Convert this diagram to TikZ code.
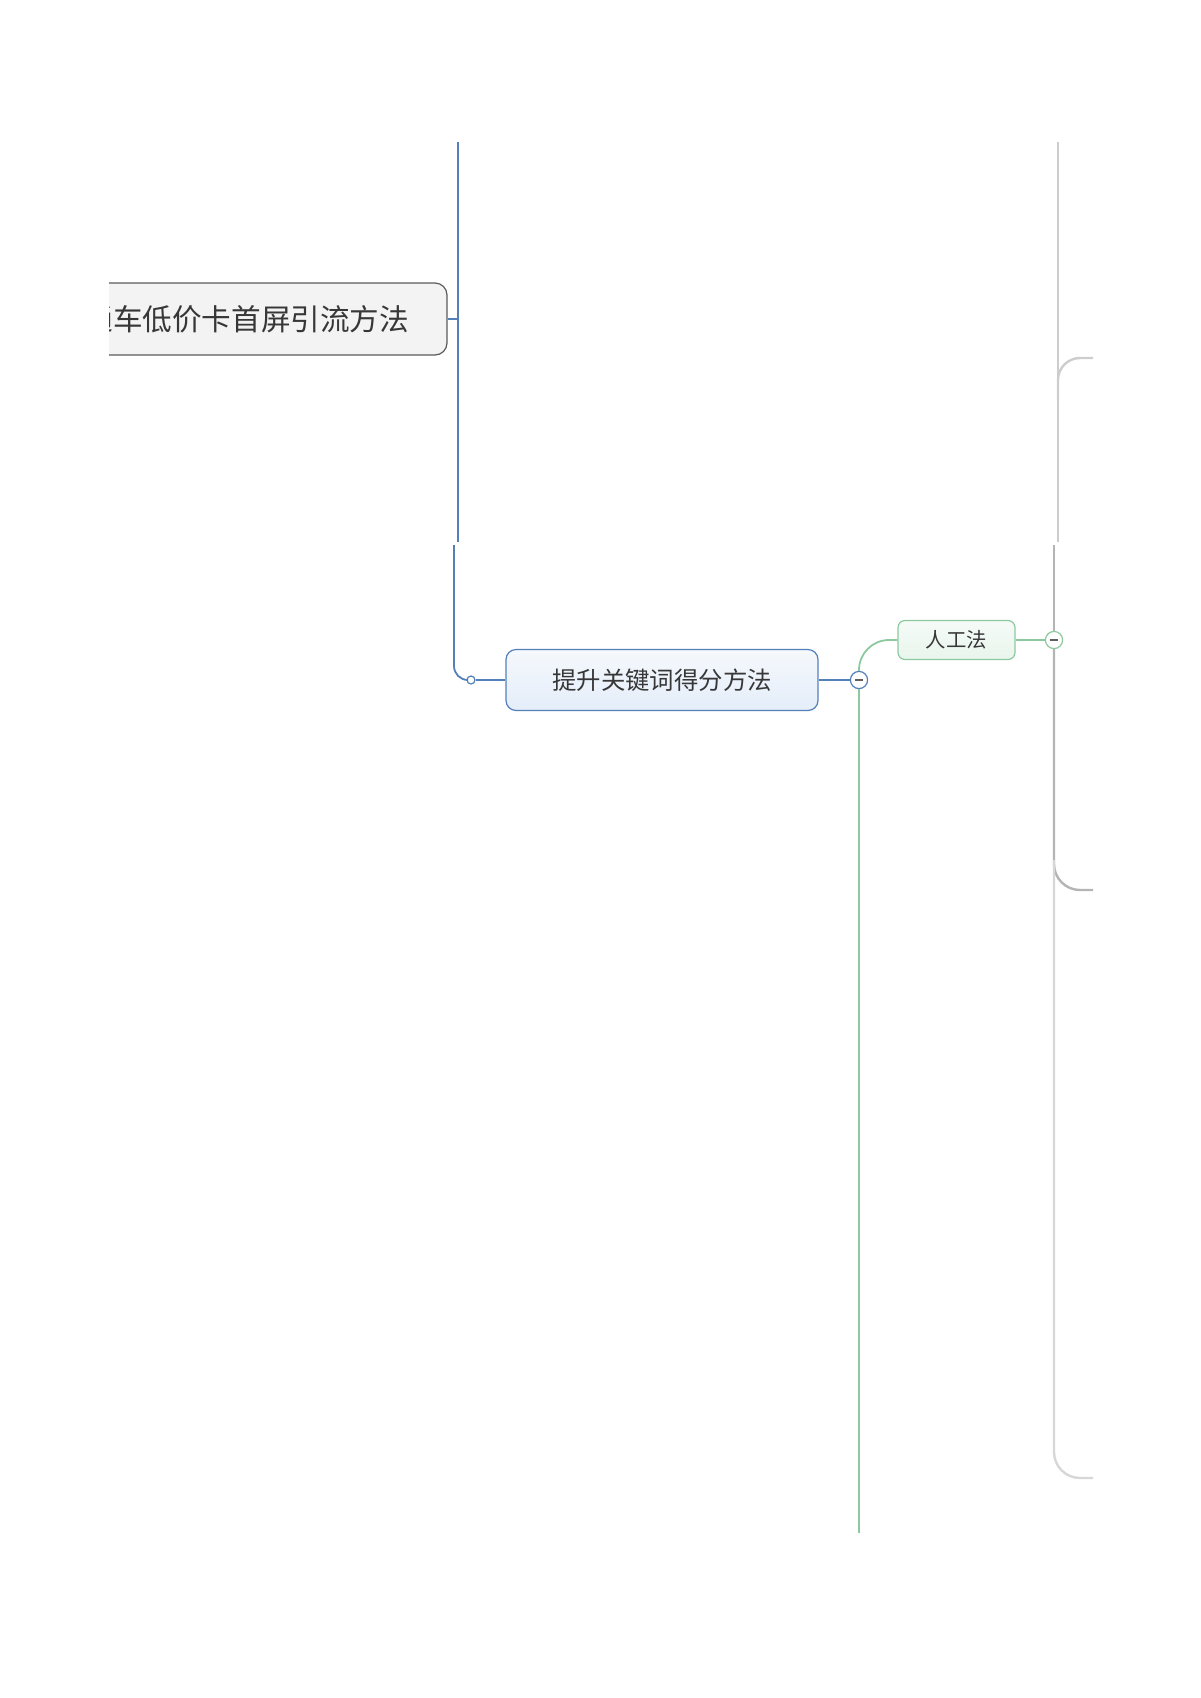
\documentclass[tikz,border=0pt]{standalone}
\usepackage{fontspec}
\newfontfamily\cjk{Noto Sans CJK SC}
\usetikzlibrary{calc,positioning}
\definecolor{topic-blue}{RGB}{84,128,186}
\definecolor{topic-fill}{RGB}{228,237,249}
\definecolor{sub-green}{RGB}{140,201,158}
\definecolor{sub-fill}{RGB}{232,245,236}
\definecolor{main-gray}{RGB}{90,90,90}
\definecolor{main-fill}{RGB}{243,243,243}
\definecolor{text-gray}{RGB}{55,55,55}
\definecolor{gray-top}{RGB}{205,205,205}
\definecolor{gray-dark}{RGB}{180,180,180}
\definecolor{gray-light}{RGB}{215,215,215}
\tikzset{
  main-topic/.style={draw=main-gray, fill=main-fill, rounded corners=6pt,
    line width=0.6pt, minimum width=215.5pt, minimum height=36pt,
    text=text-gray, font=\cjk\fontsize{14.8}{18}\selectfont},
  blue-topic/.style={draw=topic-blue, top color=topic-fill!35!white,
    bottom color=topic-fill, rounded corners=5pt, line width=0.6pt,
    minimum width=156pt, minimum height=30.5pt,
    text=text-gray, font=\cjk\fontsize{12.2}{14}\selectfont},
  green-topic/.style={draw=sub-green, top color=sub-fill!40!white,
    bottom color=sub-fill, rounded corners=3.5pt, line width=0.6pt,
    minimum width=58.5pt, minimum height=19.5pt,
    text=text-gray, font=\cjk\fontsize{10.2}{12}\selectfont},
  fold-knob/.style={circle, draw=#1, fill=white, line width=0.6pt,
    minimum size=8.6pt, inner sep=0,
    path picture={\draw[line width=1.1pt, text-gray!80]
      ([xshift=-2.1pt]path picture bounding box.center) --
      ([xshift=2.1pt]path picture bounding box.center);}},
  small-knot/.style={circle, draw=topic-blue, fill=white, line width=0.6pt,
    minimum size=4pt, inner sep=0},
  blue-line/.style={draw=topic-blue, line width=0.9pt},
  green-line/.style={draw=sub-green, line width=0.9pt},
  gray-line/.style={draw=#1, line width=1.2pt}
}
\begin{document}
\begin{tikzpicture}[x=0.5pt, y=-0.5pt]
  \useasboundingbox (0,0) rectangle (1200,1698);
  \clip (109,142) rectangle (1093,1533);

  % topics
  \node[main-topic] (main) at (231.5,319) {直通车低价卡首屏引流方法};
  \node[blue-topic] (score) at (662,680) {提升关键词得分方法};
  \node[green-topic] (manual) at (956.5,640) {人工法};
  \node[small-knot] (knot) at (471,680) {};
  \node[fold-knob=topic-blue] (fold-blue) at (859,680) {};
  \node[fold-knob=sub-green] (fold-green) at (1054,640) {};

  % free ends
  \coordinate (blue-top) at (458,130);
  \coordinate (blue-gap) at (458,542);
  \coordinate (blue-low) at (454,545);
  \coordinate (green-end) at (859,1533);
  \coordinate (gray-top) at (1058,130);
  \coordinate (gray-gap) at (1058,542);
  \coordinate (gray-low) at (1054,545);
  \coordinate (gray-mid) at (1054,860);
  \coordinate (branch-a) at (1100,358);
  \coordinate (branch-b) at (1100,890);
  \coordinate (branch-c) at (1100,1478);

  % blue connectors
  \draw[blue-line] (blue-top) -- (blue-gap);
  \draw[blue-line] (main.east) -- (main.east -| blue-top);
  \draw[blue-line, rounded corners=7pt] (blue-low) |- (knot.west);
  \draw[blue-line] (knot.east) -- (score.west);
  \draw[blue-line] (score.east) -- (fold-blue.west);

  % green connectors
  \draw[green-line, rounded corners=15pt] (fold-blue.north) |- (manual.west);
  \draw[green-line] (fold-blue.south) -- (green-end);
  \draw[green-line] (manual.east) -- (fold-green.west);

  % gray connectors
  \draw[gray-line=gray-top] (gray-top) -- (gray-gap);
  \draw[gray-line=gray-top, rounded corners=11pt] (gray-top |- 0,400) |- (branch-a);
  \draw[gray-line=gray-dark] (gray-low) -- (fold-green.north);
  \draw[gray-line=gray-dark, rounded corners=13pt] (fold-green.south) |- (branch-b);
  \draw[gray-line=gray-light, rounded corners=13pt] (gray-mid) |- (branch-c);
\end{tikzpicture}
\end{document}
